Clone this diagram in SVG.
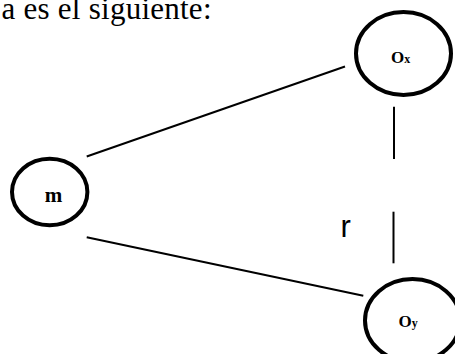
<svg xmlns="http://www.w3.org/2000/svg" width="455" height="354" viewBox="0 0 455 354">
<style>
.node{fill:none;stroke:#000;stroke-width:4}
.lab{font-family:"Liberation Serif","Times New Roman",serif;font-weight:bold;fill:#000}
.conn{stroke:#000;stroke-width:2;fill:none}
</style>
<rect width="455" height="354" fill="#fff"/>
<text x="1.5" y="19" font-family="Liberation Serif, 'Times New Roman', serif" font-size="31" textLength="210" lengthAdjust="spacing">a es el siguiente:</text>
<g id="connectors">
<line class="conn" x1="86.7" y1="156.5" x2="345" y2="66.5"/>
<line class="conn" x1="86.7" y1="237.3" x2="363.3" y2="295.7"/>
<line class="conn" x1="394" y1="106.7" x2="394" y2="159"/>
<line class="conn" x1="393.5" y1="211.7" x2="393.5" y2="263.3"/>
<text x="340.5" y="237.3" font-family="Liberation Sans, Arial, sans-serif" font-size="31">r</text>
</g>
<g id="node-m">
<ellipse class="node" cx="49.7" cy="192" rx="37.7" ry="33.3"/>
<text class="lab" x="53.5" y="201.7" font-size="21" text-anchor="middle">m</text>
</g>
<g id="node-ox">
<ellipse class="node" cx="403.5" cy="53.5" rx="47.5" ry="41.5"/>
<text class="lab" x="391" y="62.7"><tspan font-size="17">O</tspan><tspan font-size="12">x</tspan></text>
</g>
<g id="node-oy">
<ellipse class="node" cx="412.5" cy="320.5" rx="47.5" ry="41.5"/>
<text class="lab" x="398.5" y="327.3"><tspan font-size="17">O</tspan><tspan font-size="12">y</tspan></text>
</g>
</svg>
